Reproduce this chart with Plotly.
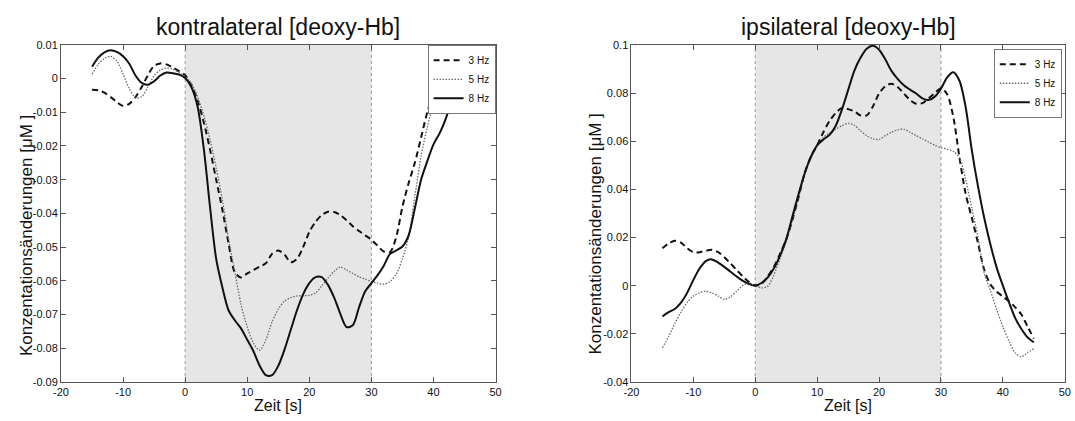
import plotly.graph_objects as go

# ---------------- data ----------------
x_l3 = list(range(-15, 46))
y_l3 = [-0.0033, -0.0035, -0.0042, -0.0055, -0.0070, -0.0081, -0.0075, -0.0055, -0.0025, 0.0010,
        0.0038, 0.0045, 0.0042, 0.0033, 0.0022, 0.0010, -0.0020, -0.0065, -0.0130, -0.0210,
        -0.0300, -0.0390, -0.0490, -0.0575, -0.0590, -0.0578, -0.0568, -0.0558, -0.0548, -0.0520,
        -0.0510, -0.0522, -0.0545, -0.0535, -0.0500, -0.0455, -0.0425, -0.0405, -0.0395, -0.0396,
        -0.0405, -0.0420, -0.0438, -0.0452, -0.0465, -0.0478, -0.0496, -0.0513, -0.0515, -0.0470,
        -0.0380, -0.0310, -0.0250, -0.0175, -0.0100, -0.0045, -0.0030, -0.0030, -0.0038, -0.0035,
        -0.0030]

x_l5 = list(range(-15, 44))
y_l5 = [0.0013, 0.0042, 0.0060, 0.0066, 0.0052, 0.0013, -0.0030, -0.0057, -0.0054, -0.0025,
        0.0009, 0.0025, 0.0031, 0.0028, 0.0018, 0.0006, -0.0015, -0.0054, -0.0110, -0.0180,
        -0.0265, -0.0360, -0.0477, -0.0573, -0.0670, -0.0737, -0.0785, -0.0806, -0.0775, -0.0722,
        -0.0684, -0.0660, -0.0650, -0.0645, -0.0644, -0.0643, -0.0636, -0.0615, -0.0592, -0.0572,
        -0.0559, -0.0568, -0.0578, -0.0588, -0.0595, -0.0602, -0.0607, -0.0610, -0.0602, -0.0580,
        -0.0534, -0.0470, -0.0350, -0.0230, -0.0145, -0.0075, -0.0038, -0.0030, -0.0032]

x_l8 = list(range(-15, 45))
y_l8 = [0.0035, 0.0062, 0.0078, 0.0084, 0.0079, 0.0066, 0.0044, 0.0009, -0.0013, -0.0018,
        -0.0008, 0.0009, 0.0018, 0.0016, 0.0012, 0.0002, -0.0025, -0.0083, -0.0208, -0.0380,
        -0.0535, -0.0620, -0.0688, -0.0717, -0.0741, -0.0775, -0.0809, -0.0852, -0.0880, -0.0880,
        -0.0852, -0.0804, -0.0746, -0.0688, -0.0640, -0.0607, -0.0589, -0.0589, -0.0612, -0.0650,
        -0.0698, -0.0737, -0.0732, -0.0679, -0.0631, -0.0607, -0.0583, -0.0555, -0.0520, -0.0510,
        -0.0498, -0.0465, -0.0385, -0.0300, -0.0245, -0.0195, -0.0162, -0.0118, -0.0060, -0.0020]

x_r3 = list(range(-15, 46))
y_r3 = [0.0155, 0.0175, 0.0186, 0.0179, 0.0155, 0.0139, 0.0139, 0.0145, 0.0149, 0.0139,
        0.0118, 0.0092, 0.0065, 0.0038, 0.0015, 0.0001, 0.0007, 0.0038, 0.0078, 0.0132,
        0.0192, 0.0273, 0.0367, 0.0468, 0.0536, 0.0583, 0.0637, 0.0684, 0.0717, 0.0738,
        0.0733, 0.0724, 0.0707, 0.0707, 0.0744, 0.0798, 0.0828, 0.0839, 0.0825, 0.0798,
        0.0771, 0.0755, 0.0758, 0.0778, 0.0800, 0.0820, 0.0795, 0.0700, 0.0530, 0.0380,
        0.0280, 0.0175, 0.0065, 0.0005, -0.0025, -0.0045, -0.0065, -0.0090, -0.0120, -0.0170,
        -0.0220]

x_r5 = list(range(-15, 46))
y_r5 = [-0.0258, -0.0211, -0.0157, -0.0110, -0.0070, -0.0043, -0.0030, -0.0023, -0.0030, -0.0043,
        -0.0057, -0.0046, -0.0023, 0.0001, 0.0011, 0.0000, -0.0009, -0.0003, 0.0044, 0.0112,
        0.0186, 0.0273, 0.0367, 0.0462, 0.0529, 0.0583, 0.0616, 0.0634, 0.0650, 0.0664,
        0.0674, 0.0666, 0.0643, 0.0623, 0.0610, 0.0607, 0.0623, 0.0637, 0.0647, 0.0650,
        0.0637, 0.0623, 0.0610, 0.0596, 0.0583, 0.0573, 0.0567, 0.0558, 0.0530, 0.0440,
        0.0320, 0.0200, 0.0050, -0.0020, -0.0100, -0.0170, -0.0230, -0.0280, -0.0295, -0.0278,
        -0.0262]

x_r8 = list(range(-15, 46))
y_r8 = [-0.0128, -0.0110, -0.0097, -0.0070, -0.0030, 0.0024, 0.0071, 0.0102, 0.0109, 0.0096,
        0.0078, 0.0058, 0.0038, 0.0020, 0.0007, 0.0000, 0.0011, 0.0034, 0.0071, 0.0125,
        0.0192, 0.0287, 0.0381, 0.0468, 0.0536, 0.0583, 0.0607, 0.0626, 0.0664, 0.0731,
        0.0812, 0.0892, 0.0946, 0.0984, 0.0996, 0.0980, 0.0940, 0.0892, 0.0859, 0.0832,
        0.0814, 0.0798, 0.0778, 0.0771, 0.0785, 0.0818, 0.0865, 0.0886, 0.0850, 0.0740,
        0.0560, 0.0410, 0.0280, 0.0170, 0.0075, 0.0000, -0.0070, -0.0135, -0.0180, -0.0215,
        -0.0235]

series_names = ["3 Hz", "5 Hz", "8 Hz"]
stim_window = [0, 30]

x_ticks = [-20, -10, 0, 10, 20, 30, 40, 50]
x_ticktext = ["-20", "-10", "0", "10", "20", "30", "40", "50"]
yl_ticks = [0.01, 0, -0.01, -0.02, -0.03, -0.04, -0.05, -0.06, -0.07, -0.08, -0.09]
yl_ticktext = ["0.01", "0", "-0.01", "-0.02", "-0.03", "-0.04", "-0.05", "-0.06", "-0.07", "-0.08", "-0.09"]
yr_ticks = [0.1, 0.08, 0.06, 0.04, 0.02, 0, -0.02, -0.04]
yr_ticktext = ["0.1", "0.08", "0.06", "0.04", "0.02", "0", "-0.02", "-0.04"]

titles = ["kontralateral [deoxy-Hb]", "ipsilateral [deoxy-Hb]"]
x_title = "Zeit [s]"
y_title = "Konzentationsänderungen [μM ]"

# ---------------- styles ----------------
W, H = 1075, 421
FONT = "Liberation Sans, Arial, sans-serif"
styles = [
    dict(color="#111111", width=2, dash="6px,4px"),
    dict(color="#6a6a6a", width=1.3, dash="1.5px,1.5px"),
    dict(color="#111111", width=2, dash="solid"),
]

dom_l = [53.7 / W, 494.0 / W]
dom_r = [631.7 / W, 1070.7 / W]
dom_y = [1 - 387.0 / H, 1 - 40.0 / H]

fig = go.Figure()
left = [(x_l3, y_l3), (x_l5, y_l5), (x_l8, y_l8)]
right = [(x_r3, y_r3), (x_r5, y_r5), (x_r8, y_r8)]
for (xs, ys), nm, st in zip(left, series_names, styles):
    fig.add_trace(go.Scatter(x=xs, y=ys, name=nm, mode="lines", line=dict(shape="spline", smoothing=0.8, **st),
                             xaxis="x", yaxis="y", legend="legend"))
for (xs, ys), nm, st in zip(right, series_names, styles):
    fig.add_trace(go.Scatter(x=xs, y=ys, name=nm, mode="lines", line=dict(shape="spline", smoothing=0.8, **st),
                             xaxis="x2", yaxis="y2", legend="legend2"))

axis_common = dict(showgrid=False, zeroline=False, showline=True, linecolor="#555555", linewidth=1,
                   mirror="allticks", ticks="inside", ticklen=5, tickcolor="#555555",
                   tickfont=dict(family=FONT, size=11, color="#111111"))

fig.update_layout(
    width=W, height=H, margin=dict(l=0, r=0, t=0, b=0),
    paper_bgcolor="white", plot_bgcolor="white",
    font=dict(family=FONT, color="#111111"),
    xaxis=dict(domain=dom_l, range=[-20, 50], tickvals=x_ticks, ticktext=x_ticktext, anchor="y", **axis_common),
    yaxis=dict(domain=dom_y, range=[-0.09, 0.01], tickvals=yl_ticks, ticktext=yl_ticktext, anchor="x", **axis_common),
    xaxis2=dict(domain=dom_r, range=[-20, 50], tickvals=x_ticks, ticktext=x_ticktext, anchor="y2", **axis_common),
    yaxis2=dict(domain=dom_y, range=[-0.04, 0.1], tickvals=yr_ticks, ticktext=yr_ticktext, anchor="x2", **axis_common),
    legend=dict(x=dom_l[1], xanchor="right", y=dom_y[1], yanchor="top", bgcolor="white",
                bordercolor="#777777", borderwidth=1, font=dict(family=FONT, size=10),
                itemwidth=30, tracegroupgap=0),
    legend2=dict(x=dom_r[1] - 3.0 / W, xanchor="right", y=dom_y[1] - 4.0 / H, yanchor="top", bgcolor="white",
                 bordercolor="#777777", borderwidth=1, font=dict(family=FONT, size=10),
                 itemwidth=30, tracegroupgap=0),
    showlegend=True,
)

shapes = []
for xa, ya in [("x", "y"), ("x2", "y2")]:
    shapes.append(dict(type="rect", xref=xa, yref=ya + " domain", x0=stim_window[0], x1=stim_window[1],
                       y0=0, y1=1, fillcolor="#e6e6e6", line=dict(width=0), layer="below"))
    for xv in stim_window:
        shapes.append(dict(type="line", xref=xa, yref=ya + " domain", x0=xv, x1=xv, y0=0, y1=1,
                           line=dict(color="#9a9a9a", width=1, dash="dot"), layer="below"))
fig.update_layout(shapes=shapes)

annotations = []
for dom, t in zip([dom_l, dom_r], titles):
    annotations.append(dict(text=t, x=(dom[0] + dom[1]) / 2, y=1 - 22.0 / H, xref="paper", yref="paper",
                            showarrow=False, xanchor="center", yanchor="middle",
                            font=dict(family=FONT, size=23, color="#111111")))
    annotations.append(dict(text=x_title, x=(dom[0] + dom[1]) / 2, y=1 - 411.0 / H, xref="paper", yref="paper",
                            showarrow=False, xanchor="center", yanchor="middle",
                            font=dict(family=FONT, size=16, color="#111111")))
for xc, yc in [(19.0, 236.0), (595.0, 235.0)]:
    annotations.append(dict(text=y_title, x=xc / W, y=1 - yc / H, xref="paper", yref="paper",
                            showarrow=False, textangle=-90, xanchor="center", yanchor="middle",
                            font=dict(family=FONT, size=17, color="#111111")))
fig.update_layout(annotations=annotations)

fig.write_html("out.html")
